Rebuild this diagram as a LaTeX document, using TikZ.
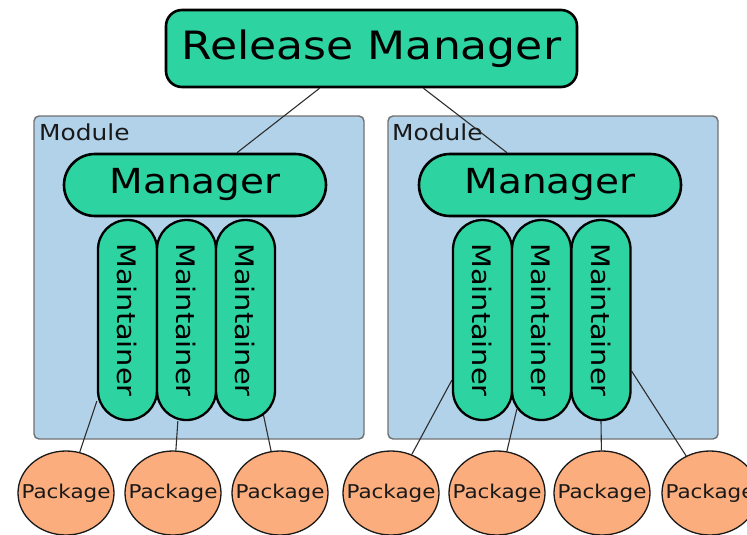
\documentclass[tikz,border=0pt]{standalone}
\usepackage{fontspec}
\setmainfont{DejaVu Sans}[FakeStretch=1.13]
\usetikzlibrary{calc,shapes.geometric}
\definecolor{rolegreen}{RGB}{45,211,160}
\definecolor{moduleblue}{RGB}{178,210,234}
\definecolor{moduleedge}{RGB}{112,112,112}
\definecolor{pkgorange}{RGB}{251,173,125}
\definecolor{linkgray}{RGB}{45,45,45}
\pgfdeclarelayer{back}
\pgfdeclarelayer{links}
\pgfsetlayers{back,links,main}
\tikzset{
  role/.style={draw=black, line width=2.6pt, fill=rolegreen, inner sep=0pt, text=black},
  releasebox/.style={role, rounded corners=16pt, minimum width=411pt, minimum height=77pt,
    font=\fontsize{39}{42}\selectfont},
  managerbox/.style={role, rounded corners=31pt, minimum width=262pt, minimum height=62pt,
    font=\fontsize{34.5}{38}\selectfont},
  pill/.style={role, line width=2.3pt, rounded corners=29.5pt, minimum width=59pt, minimum height=200pt,
    font=\fontsize{25.5}{28}\selectfont},
  modulebox/.style={draw=moduleedge, line width=1.4pt, fill=moduleblue, rounded corners=5pt,
    minimum width=330pt, minimum height=323pt, inner sep=0pt},
  modulelabel/.style={anchor=base west, inner sep=0pt, text=black!90, font=\fontsize{22}{24}\selectfont},
  package/.style={ellipse, draw=black!90, line width=1.3pt, fill=pkgorange, inner sep=0pt,
    minimum width=96pt, minimum height=84pt, text=black!90, font=\fontsize{19}{21}\selectfont},
  link/.style={draw=linkgray, line width=1.1pt}
}
\newcommand{\maint}{\rotatebox{-90}{Maintainer}}
\newcommand{\pkg}{\makebox[0pt]{Package}}
\begin{document}
\begin{tikzpicture}[x=1pt, y=-1pt]
  \useasboundingbox (0,0) rectangle (747,535);
  \clip (0,0) rectangle (747,535);

  % top role
  \node[releasebox] (rm) at (371.5,48.5) {Release Manager};

  % module managers
  \node[managerbox] (mgrL) at (195,185) {Manager};
  \node[managerbox] (mgrR) at (550,185) {Manager};

  % maintainers, left module
  \node[pill] (pL1) at (127.5,320) {\maint};
  \node[pill] (pL2) at (186.5,320) {\maint};
  \node[pill] (pL3) at (245.5,320) {\maint};
  % maintainers, right module
  \node[pill] (pR1) at (482.5,320) {\maint};
  \node[pill] (pR2) at (541.5,320) {\maint};
  \node[pill] (pR3) at (601,320) {\maint};

  % packages
  \node[package] (k1) at (66,493) {\pkg};
  \node[package] (k2) at (173,493) {\pkg};
  \node[package] (k3) at (280,493) {\pkg};
  \node[package] (k4) at (391,493) {\pkg};
  \node[package] (k5) at (497,493) {\pkg};
  \node[package] (k6) at (602,493) {\pkg};
  \node[package] (k7) at (710,493) {\pkg};

  % module containers
  \begin{pgfonlayer}{back}
    \node[modulebox] (modL) at (199,277.5) {};
    \node[modulebox] (modR) at (553,277.5) {};
    \node[modulelabel] (labL) at (39,140) {Module};
    \node[modulelabel] (labR) at (392,140) {Module};
  \end{pgfonlayer}

  % connectors
  \begin{pgfonlayer}{links}
    \draw[link] ($(rm.south)+(-52,0)$) -- ($(mgrL.north)+(42,0)$);
    \draw[link] ($(rm.south)+(52,0)$) -- ($(mgrR.north)+(-43,0)$);
    \draw[link] (k1) -- ($(pL1.south west)+(0,-20)$);
    \draw[link] (k2) -- ($(pL2.south west)+(22,0)$);
    \draw[link] (k3) -- ($(pL3.south)+(18,-6)$);
    \draw[link] (k4) -- ($(pR1.south west)+(0,-41)$);
    \draw[link] (k5) -- ($(pR2.south west)+(6,-12)$);
    \draw[link] (k6) -- (pR3.south);
    \draw[link] (k7) -- ($(pR3.south east)+(0,-50)$);
  \end{pgfonlayer}
\end{tikzpicture}
\end{document}
